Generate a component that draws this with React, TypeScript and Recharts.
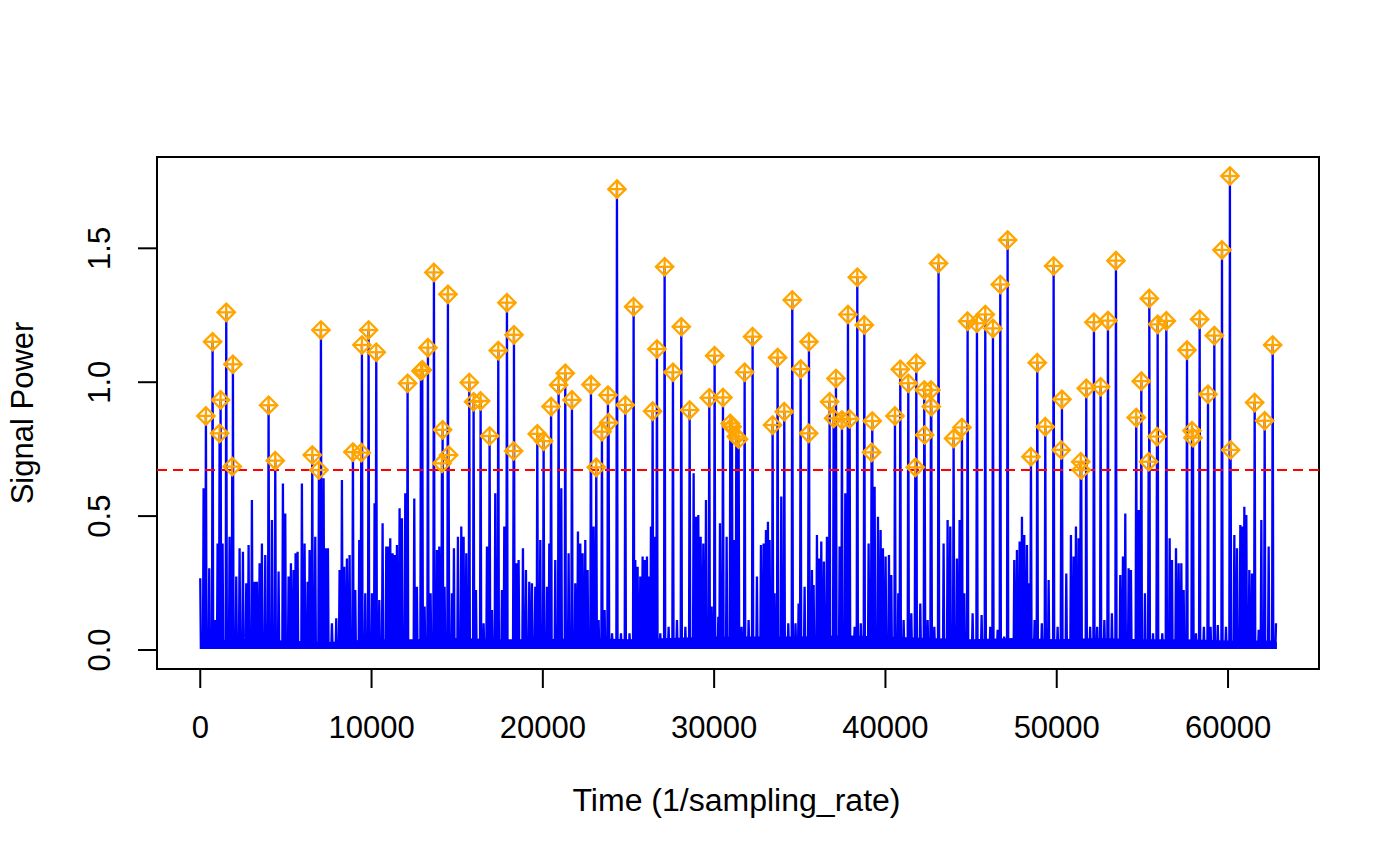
import React from 'react';
import {
  ComposedChart,
  Line,
  Scatter,
  Area,
  XAxis,
  YAxis,
  ReferenceLine,
  ReferenceArea,
} from 'recharts';

// Detected peaks (orange markers)
const peakX = [
  331, 720, 1129, 1187, 1518, 1868, 1907, 3989, 4379, 6539, 6928, 7045, 8913,
  9399, 9438, 9827, 10275, 12104, 12883, 12961, 13292, 13642, 14109, 14148, 14459, 14498,
  15705, 15958, 16367, 16892, 17398, 17904, 18294, 18313, 19676, 20045,
  20480, 20920, 21309, 21699, 22808, 23119, 23450, 23800, 23839, 24326, 24813, 25299,
  26408, 26661, 27109, 27595, 28082, 28569, 29717, 30028, 30515, 30943, 31040, 31293, 31429, 31780,
  32245, 33413, 33705, 34094, 34561, 35048, 35515, 35534, 36741, 36975, 37111, 37461, 37812, 37909,
  38357, 38766, 39190, 39230, 40556, 40867, 41334, 41743, 41801, 42268, 42288, 42657, 42677, 43100,
  43979, 44466, 44797, 45342, 45828, 46276, 46704, 47132, 48494, 48864, 49331, 49818, 50265, 50304,
  51400, 51430, 51724, 52172, 52561, 52989, 53456,
  54640, 54937, 55365, 55404, 55852, 55891, 56397, 57604, 57896, 57954, 58343, 58830, 59199, 59647,
  60110, 60150, 61555, 62139, 62606,
];
const peakY = [
  0.874, 1.151, 0.809, 0.934, 1.261, 0.685, 1.067, 0.914, 0.707, 0.728, 0.672, 1.195, 0.739,
  0.737, 1.139, 1.195, 1.112, 0.996, 1.042, 1.046, 1.129, 1.41, 0.697, 0.822, 1.328, 0.728,
  0.999, 0.927, 0.93, 0.799, 1.118, 1.297, 0.743, 1.177, 0.807, 0.78,
  0.909, 0.99, 1.033, 0.934, 0.991, 0.682, 0.815, 0.952, 0.849, 1.721, 0.915, 1.282,
  0.892, 1.124, 1.431, 1.037, 1.207, 0.896, 0.942, 1.099, 0.943, 0.846, 0.834, 0.797, 0.787, 1.037,
  1.17, 0.84, 1.092, 0.89, 1.307, 1.049, 0.809, 1.151, 0.927, 0.865, 1.014, 0.859, 1.253, 0.863,
  1.392, 1.214, 0.738, 0.855, 0.874, 1.048, 0.996, 0.682, 1.071, 0.971, 0.803, 0.971, 0.909, 1.444,
  0.79, 0.831, 1.228, 1.22, 1.253, 1.201, 1.365, 1.531, 0.722, 1.073, 0.834, 1.434, 0.747, 0.936,
  0.703, 0.672, 0.977, 1.224, 0.983, 1.23, 1.454,
  0.868, 1.004, 0.703, 1.313, 0.797, 1.216, 1.229, 1.12, 0.819, 0.793, 1.235, 0.955, 1.174, 1.494,
  1.77, 0.747, 0.924, 0.856, 1.139,
];

// Sub-threshold spikes of the signal
const minorX = [
  0, 195, 525, 876, 1012, 1304, 1712, 2102, 2296, 2491, 2686, 2822, 3016, 3172, 3308, 3464, 3600, 3795,
  4184, 4573, 4826, 4962, 5157, 5293, 5449, 5566, 5682, 5935, 6091, 6266, 6383, 6714, 7200, 7317, 7453,
  7687, 7940, 8134, 8271, 8407, 8562, 8718,
  9050, 9282, 9633, 10022, 10177, 10450, 10645, 10859, 10995, 11092, 11229, 11345, 11482, 11637, 11774,
  11969, 12260, 12494, 12649, 13097, 13447, 13817, 13953, 14264, 14693, 14809, 15043, 15238, 15374, 15530,
  16095, 16542, 16737, 17028, 17223, 17612, 17749, 18449, 18585, 18838, 19014, 19208, 19364, 19558, 19851,
  20240, 20376,
  20725, 21076, 21504, 21893, 22049, 22185, 22322, 22477, 22613, 22964, 23255, 23606, 24040, 24560, 25060,
  25396, 25532, 25688, 25824, 25941, 26077, 26200, 26311, 26505, 26856, 27342, 27829, 28320, 28803, 28939,
  29075, 29212, 29367, 29523, 29854, 30243, 30340, 30729, 31157, 31600,
  32012, 32498, 32732, 32887, 33024, 33140, 33238, 33530, 33919, 34328, 34750, 34931, 35281, 35709, 35806,
  36001, 36137, 36254, 36409, 36584, 37325, 37656, 38201, 38560, 39018, 39368, 39563, 39718, 39854, 40010,
  40205, 40341, 40750, 41061, 41509, 42034, 42463, 42852,
  43395, 43629, 43784, 44173, 44329, 44602, 45089, 45614, 46120, 46550, 46930, 47521, 47677, 47833, 47969,
  48105, 48261, 48397, 48708, 49130, 49526, 50050, 50557, 50829, 50985, 51121, 51276, 51950, 52360, 52780,
  53220, 53709, 53865, 54001, 54196, 54332,
  54790, 55150, 55620, 56160, 56592, 56728, 56962, 57117, 57273, 57409, 58130, 58590, 58980, 59400, 59880,
  60367, 60523, 60717, 60814, 60951, 61067, 61242, 61398, 61790, 61944, 62372, 62800,
];
const minorY = [
  0.268, 0.604, 0.305, 0.112, 0.398, 0.398, 0.423, 0.274, 0.38, 0.367, 0.249, 0.392, 0.56, 0.255, 0.255, 0.324, 0.398, 0.355,
  0.485, 0.293, 0.622, 0.51, 0.274, 0.324, 0.299, 0.361, 0.367, 0.622, 0.398, 0.255, 0.373, 0.423, 0.641, 0.38, 0.38,
  0.1, 0.118, 0.299, 0.635, 0.311, 0.342, 0.355,
  0.224, 0.411, 0.212, 0.212, 0.548, 0.187, 0.473, 0.386, 0.386, 0.417, 0.361, 0.355, 0.392, 0.529, 0.492,
  0.585, 0.031, 0.566, 0.236, 0.162, 0.212, 0.373, 0.386, 0.236, 0.212, 0.38, 0.423, 0.461, 0.423, 0.361,
  0.224, 0.1, 0.386, 0.149, 0.585, 0.224, 0.461, 0.324, 0.336, 0.38, 0.299, 0.255, 0.249, 0.236, 0.411,
  0.236, 0.398,
  0.336, 0.604, 0.361, 0.249, 0.442, 0.398, 0.361, 0.411, 0.299, 0.461, 0.112, 0.149, 0.062, 0.062, 0.062,
  0.336, 0.311, 0.274, 0.349, 0.336, 0.349, 0.274, 0.461, 0.423, 0.062, 0.087, 0.112, 0.087, 0.66, 0.498,
  0.504, 0.423, 0.398, 0.56, 0.162, 0.124, 0.473, 0.423, 0.411, 0.087,
  0.112, 0.274, 0.392, 0.398, 0.448, 0.479, 0.411, 0.212, 0.573, 0.1, 0.1, 0.174, 0.236, 0.299, 0.243,
  0.429, 0.342, 0.405, 0.33, 0.423, 0.386, 0.585, 0.087, 0.1, 0.398, 0.61, 0.498, 0.448, 0.38, 0.349,
  0.355, 0.28, 0.212, 0.112, 0.137, 0.174, 0.112, 0.087,
  0.398, 0.485, 0.461, 0.342, 0.485, 0.212, 0.137, 0.131, 0.087, 0.075, 0.05, 0.336, 0.373, 0.405, 0.498,
  0.429, 0.392, 0.249, 0.112, 0.1, 0.261, 0.087, 0.286, 0.429, 0.349, 0.461, 0.417, 0.087, 0.087, 0.112,
  0.137, 0.28, 0.349, 0.51, 0.305, 0.299,
  0.523, 0.212, 0.062, 0.062, 0.417, 0.336, 0.38, 0.324, 0.324, 0.224, 0.062, 0.087, 0.087, 0.093, 0.087,
  0.429, 0.38, 0.467, 0.461, 0.535, 0.504, 0.299, 0.286, 0.075, 0.485, 0.386, 0.1,
];

// Noise floor (dense band at the bottom)
const floorX = [0, 2500, 5000, 7500, 10000, 12500, 15000, 17500, 20000, 22500, 25000, 27500, 30000, 32500,
  35000, 37500, 40000, 42500, 45000, 47500, 50000, 52500, 55000, 57500, 60000, 62500, 62850];
const floorY = [0.035, 0.04, 0.035, 0.03, 0.04, 0.04, 0.045, 0.04, 0.04, 0.045, 0.04, 0.045, 0.05, 0.05,
  0.05, 0.055, 0.05, 0.045, 0.04, 0.045, 0.04, 0.045, 0.04, 0.04, 0.035, 0.035, 0.03];

const BASELINE = 0.008;
const THRESHOLD = 0.672;
const SPIKE_HALF_WIDTH = 35;

const xTicks = [0, 10000, 20000, 30000, 40000, 50000, 60000];
const yTicks = [0, 0.5, 1.0, 1.5];

const X_DOMAIN: [number, number] = [-2525, 65310];
const Y_DOMAIN: [number, number] = [-0.071, 1.841];

const FONT = '"Liberation Sans", Arial, Helvetica, sans-serif';
const FS = 31;

const spikes = [
  ...peakX.map((x, i) => ({ x, y: peakY[i] })),
  ...minorX.map((x, i) => ({ x, y: minorY[i] })),
].sort((a, b) => a.x - b.x);

// Each spike rises from and returns to the baseline
const lineData: { x: number; y: number }[] = [];
spikes.forEach((s, i) => {
  if (i > 0) {
    const prev = spikes[i - 1];
    const gap = s.x - prev.x;
    if (gap > 2 * SPIKE_HALF_WIDTH) {
      lineData.push({ x: prev.x + SPIKE_HALF_WIDTH, y: BASELINE });
      lineData.push({ x: s.x - SPIKE_HALF_WIDTH, y: BASELINE });
    } else {
      lineData.push({ x: (prev.x + s.x) / 2, y: BASELINE });
    }
  }
  lineData.push(s);
});

const peakData = peakX.map((x, i) => ({ x, y: peakY[i] }));
const floorData = floorX.map((x, i) => ({ x, y: floorY[i] }));

const DiamondPlus = (props: any) => {
  const { cx, cy } = props;
  if (cx == null || cy == null) return <g />;
  const r = 8.7;
  return (
    <g stroke="#FFA500" strokeWidth={2.3} fill="none">
      <path d={`M${cx},${cy - r}L${cx + r},${cy}L${cx},${cy + r}L${cx - r},${cy}Z`} />
      <line x1={cx - r} y1={cy} x2={cx + r} y2={cy} />
      <line x1={cx} y1={cy - r} x2={cx} y2={cy + r} />
    </g>
  );
};

const XTick = (props: any) => {
  const { x, y, payload } = props;
  return (
    <text x={x} y={y} dy="0.71em" textAnchor="middle" fontSize={FS} fontFamily={FONT} fill="#000">
      {String(payload.value)}
    </text>
  );
};

const YTick = (props: any) => {
  const { x, y, payload } = props;
  return (
    <text
      x={x}
      y={y}
      transform={`rotate(-90 ${x} ${y})`}
      textAnchor="middle"
      fontSize={FS}
      fontFamily={FONT}
      fill="#000"
    >
      {Number(payload.value).toFixed(1)}
    </text>
  );
};

export default function App() {
  return (
    <div style={{ position: 'absolute', left: 0, top: 0, width: 1400, height: 865, background: '#fff' }}>
      <ComposedChart
        width={1400}
        height={865}
        margin={{ top: 157, right: 81, bottom: 136, left: 0 }}
      >
        <XAxis
          type="number"
          dataKey="x"
          domain={X_DOMAIN}
          allowDataOverflow
          ticks={xTicks}
          interval={0}
          tickSize={19}
          tickMargin={28}
          axisLine={false}
          tickLine={{ stroke: '#000', strokeWidth: 2 }}
          tick={XTick}
          height={60}
        />
        <YAxis
          type="number"
          dataKey="y"
          domain={Y_DOMAIN}
          allowDataOverflow
          ticks={yTicks}
          interval={0}
          width={157}
          tickSize={19}
          tickMargin={28}
          axisLine={false}
          tickLine={{ stroke: '#000', strokeWidth: 2 }}
          tick={YTick}
        />
        <Area
          data={floorData}
          dataKey="y"
          type="linear"
          stroke="none"
          fill="#0000FF"
          fillOpacity={1}
          baseValue={0.004}
          isAnimationActive={false}
        />
        <Line
          data={lineData}
          dataKey="y"
          type="linear"
          stroke="#0000FF"
          strokeWidth={2.3}
          dot={false}
          activeDot={false}
          isAnimationActive={false}
        />
        <ReferenceLine
          y={THRESHOLD}
          stroke="#FF0000"
          strokeWidth={2}
          strokeDasharray="10 6"
          ifOverflow="extendDomain"
        />
        <Scatter
          data={peakData}
          dataKey="y"
          shape={DiamondPlus}
          isAnimationActive={false}
        />
        <ReferenceArea
          x1={X_DOMAIN[0]}
          x2={X_DOMAIN[1]}
          y1={Y_DOMAIN[0]}
          y2={Y_DOMAIN[1]}
          fill="none"
          stroke="#000"
          strokeWidth={2}
          ifOverflow="visible"
        />
      </ComposedChart>
      <svg
        width={1400}
        height={865}
        style={{ position: 'absolute', left: 0, top: 0, pointerEvents: 'none' }}
      >
        <text
          x={736.5}
          y={811}
          textAnchor="middle"
          fontSize={FS}
          fontFamily={FONT}
          fill="#000"
          textLength={328}
          lengthAdjust="spacingAndGlyphs"
        >
          Time (1/sampling_rate)
        </text>
        <text
          x={33}
          y={413}
          transform="rotate(-90 33 413)"
          textAnchor="middle"
          fontSize={FS}
          fontFamily={FONT}
          fill="#000"
        >
          Signal Power
        </text>
      </svg>
    </div>
  );
}
